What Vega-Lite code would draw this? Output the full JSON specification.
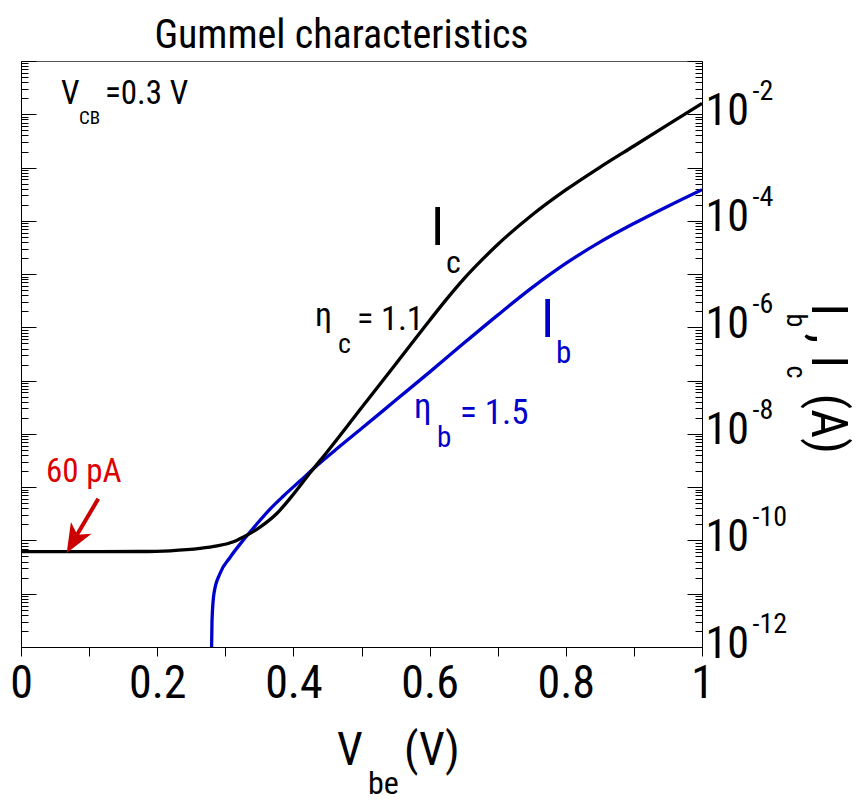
{
 "$schema": "https://vega.github.io/schema/vega-lite/v6.json",
 "width": 681, "height": 586,
 "autosize": {"type": "none"},
 "padding": {"left": 21, "top": 61, "right": 164, "bottom": 154},
 "background": "white",
 "config": {
  "font": "Roboto Condensed, Liberation Sans Narrow, Liberation Sans, Arial, sans-serif",
  "view": {"stroke": "#555555", "strokeWidth": 1},
  "axis": {"grid": false, "domainColor": "#000000", "tickColor": "#000000", "labelColor": "#000000", "labelFont": "Roboto Condensed, Liberation Sans Narrow, Liberation Sans, Arial, sans-serif", "domainWidth": 1, "tickWidth": 1}
 },
 "title": {"text": "Gummel characteristics", "font": "Roboto Condensed, Liberation Sans Narrow, Liberation Sans, Arial, sans-serif", "fontSize": 40, "fontWeight": "normal", "color": "#000000", "anchor": "middle", "dx": -20, "offset": 5},
 "datasets": {
  "curves": [
   {"series": "Ib", "v": 0.279, "i": 2e-13},
   {"series": "Ib", "v": 0.2805, "i": 3.16e-12},
   {"series": "Ib", "v": 0.2834, "i": 1.02e-11},
   {"series": "Ib", "v": 0.2922, "i": 2.4e-11},
   {"series": "Ib", "v": 0.3069, "i": 4.79e-11},
   {"series": "Ib", "v": 0.326, "i": 1.0e-10},
   {"series": "Ib", "v": 0.345, "i": 1.95e-10},
   {"series": "Ib", "v": 0.365, "i": 3.8e-10},
   {"series": "Ib", "v": 0.385, "i": 6.76e-10},
   {"series": "Ib", "v": 0.41, "i": 1.318e-9},
   {"series": "Ib", "v": 0.435, "i": 2.57e-9},
   {"series": "Ib", "v": 0.46, "i": 4.79e-9},
   {"series": "Ib", "v": 0.5, "i": 1.259e-8},
   {"series": "Ib", "v": 0.55, "i": 4.27e-8},
   {"series": "Ib", "v": 0.6, "i": 1.445e-7},
   {"series": "Ib", "v": 0.65, "i": 5.01e-7},
   {"series": "Ib", "v": 0.7, "i": 1.698e-6},
   {"series": "Ib", "v": 0.75, "i": 5.5e-6},
   {"series": "Ib", "v": 0.8, "i": 1.585e-5},
   {"series": "Ib", "v": 0.85, "i": 3.98e-5},
   {"series": "Ib", "v": 0.9, "i": 8.91e-5},
   {"series": "Ib", "v": 0.95, "i": 1.884e-4},
   {"series": "Ib", "v": 1.0, "i": 3.85e-4},
   {"series": "Ic", "v": 0.0, "i": 6.17e-11},
   {"series": "Ic", "v": 0.057, "i": 6.17e-11},
   {"series": "Ic", "v": 0.116, "i": 6.17e-11},
   {"series": "Ic", "v": 0.175, "i": 6.2e-11},
   {"series": "Ic", "v": 0.219, "i": 6.4e-11},
   {"series": "Ic", "v": 0.263, "i": 7.08e-11},
   {"series": "Ic", "v": 0.288, "i": 7.9e-11},
   {"series": "Ic", "v": 0.311, "i": 9.33e-11},
   {"series": "Ic", "v": 0.326, "i": 1.148e-10},
   {"series": "Ic", "v": 0.351, "i": 1.778e-10},
   {"series": "Ic", "v": 0.376, "i": 3.24e-10},
   {"series": "Ic", "v": 0.399, "i": 7.08e-10},
   {"series": "Ic", "v": 0.424, "i": 1.82e-9},
   {"series": "Ic", "v": 0.45, "i": 4.68e-9},
   {"series": "Ic", "v": 0.5, "i": 3.09e-8},
   {"series": "Ic", "v": 0.55, "i": 2.04e-7},
   {"series": "Ic", "v": 0.6, "i": 1.349e-6},
   {"series": "Ic", "v": 0.625, "i": 3.39e-6},
   {"series": "Ic", "v": 0.65, "i": 8.04e-6},
   {"series": "Ic", "v": 0.675, "i": 1.746e-5},
   {"series": "Ic", "v": 0.7, "i": 3.59e-5},
   {"series": "Ic", "v": 0.75, "i": 1.274e-4},
   {"series": "Ic", "v": 0.8, "i": 3.8e-4},
   {"series": "Ic", "v": 0.85, "i": 1.012e-3},
   {"series": "Ic", "v": 0.9, "i": 2.54e-3},
   {"series": "Ic", "v": 0.95, "i": 6.38e-3},
   {"series": "Ic", "v": 1.0, "i": 1.603e-2}
  ]
 },
 "layer": [
  {
   "data": {"name": "curves"},
   "mark": {"type": "line", "clip": true, "strokeWidth": 3.3, "interpolate": "monotone"},
   "encoding": {
    "x": {"field": "v", "type": "quantitative", "scale": {"domain": [0, 1], "nice": false, "zero": false},
     "axis": {"title": null, "values": [0, 0.1, 0.2, 0.3, 0.4, 0.5, 0.6, 0.7, 0.8, 0.9, 1], "format": ".1~f", "labelExpr": "round(datum.value*10) % 2 == 0 ? datum.label : ''", "tickSize": 9, "labelFontSize": 46, "labelPadding": 5, "labelOverlap": false, "labelFlush": false, "domain": true}},
    "y": {"field": "i", "type": "quantitative", "scale": {"type": "log", "domain": [1e-12, 0.1], "nice": false},
     "axis": {"title": null, "orient": "right", "values": [1e-12, 1e-11, 1e-10, 1e-9, 1e-8, 1e-7, 1e-6, 1e-5, 1e-4, 1e-3, 1e-2, 1e-1], "labels": false, "tickSize": -15, "domain": true}},
    "color": {"field": "series", "type": "nominal", "scale": {"domain": ["Ic", "Ib"], "range": ["#000000", "#0000cc"]}, "legend": null},
    "order": {"field": "v", "type": "quantitative"}
   }
  },
  {
   "data": {"name": "curves"},
   "mark": {"type": "point", "opacity": 0},
   "encoding": {
    "x": {"field": "v", "type": "quantitative", "scale": {"domain": [0, 1], "nice": false, "zero": false}, "axis": null},
    "y": {"field": "i", "type": "quantitative", "scale": {"type": "log", "domain": [1e-12, 0.1], "nice": false},
     "axis": {"title": null, "orient": "right", "values": [2e-12,3e-12,4e-12,5e-12,6e-12,7e-12,8e-12,9e-12,2e-11,3e-11,4e-11,5e-11,6e-11,7e-11,8e-11,9e-11,2e-10,3e-10,4e-10,5e-10,6e-10,7e-10,8e-10,9e-10,2e-9,3e-9,4e-9,5e-9,6e-9,7e-9,8e-9,9e-9,2e-8,3e-8,4e-8,5e-8,6e-8,7e-8,8e-8,9e-8,2e-7,3e-7,4e-7,5e-7,6e-7,7e-7,8e-7,9e-7,2e-6,3e-6,4e-6,5e-6,6e-6,7e-6,8e-6,9e-6,2e-5,3e-5,4e-5,5e-5,6e-5,7e-5,8e-5,9e-5,2e-4,3e-4,4e-4,5e-4,6e-4,7e-4,8e-4,9e-4,2e-3,3e-3,4e-3,5e-3,6e-3,7e-3,8e-3,9e-3,2e-2,3e-2,4e-2,5e-2,6e-2,7e-2,8e-2,9e-2], "labels": false, "tickSize": -7, "domain": false}}
   }
  },
  {
   "data": {"name": "curves"},
   "mark": {"type": "point", "opacity": 0},
   "encoding": {
    "x": {"field": "v", "type": "quantitative", "scale": {"domain": [0, 1], "nice": false, "zero": false}, "axis": null},
    "y": {"field": "i", "type": "quantitative", "scale": {"type": "log", "domain": [1e-12, 0.1], "nice": false},
     "axis": {"title": null, "orient": "right", "values": [1e-12, 1e-10, 1e-8, 1e-6, 1e-4, 1e-2], "labelExpr": "'10'", "ticks": false, "tickSize": 0, "domain": false, "labelFontSize": 44, "labelPadding": 3, "labelBaseline": "middle", "labelOffset": -3, "labelAlign": "left"}}
   }
  },
  {
   "data": {"name": "curves"},
   "mark": {"type": "point", "opacity": 0},
   "encoding": {
    "x": {"field": "v", "type": "quantitative", "scale": {"domain": [0, 1], "nice": false, "zero": false}, "axis": null},
    "y": {"field": "i", "type": "quantitative", "scale": {"type": "log", "domain": [1e-12, 0.1], "nice": false},
     "axis": {"title": null, "orient": "right", "values": [1e-12, 1e-10, 1e-8, 1e-6, 1e-4, 1e-2], "labelExpr": "'-' + round(-log(datum.value)/LN10)", "ticks": false, "tickSize": 0, "domain": false, "labelFontSize": 28, "labelPadding": 50, "labelBaseline": "middle", "labelOffset": -23, "labelAlign": "left"}}
   }
  },
  {
   "data": {"name": "curves"},
   "mark": {"type": "point", "opacity": 0},
   "encoding": {
    "x": {"field": "v", "type": "quantitative", "scale": {"domain": [0, 1], "nice": false, "zero": false}, "axis": null},
    "y": {"field": "i", "type": "quantitative", "scale": {"type": "log", "domain": [1e-12, 0.1], "nice": false},
     "axis": {"title": null, "orient": "left", "values": [1e-12, 1e-11, 1e-10, 1e-9, 1e-8, 1e-7, 1e-6, 1e-5, 1e-4, 1e-3, 1e-2, 1e-1], "labels": false, "tickSize": -15, "domain": true}}
   }
  },
  {
   "data": {"name": "curves"},
   "mark": {"type": "point", "opacity": 0},
   "encoding": {
    "x": {"field": "v", "type": "quantitative", "scale": {"domain": [0, 1], "nice": false, "zero": false}, "axis": null},
    "y": {"field": "i", "type": "quantitative", "scale": {"type": "log", "domain": [1e-12, 0.1], "nice": false},
     "axis": {"title": null, "orient": "left", "values": [2e-12,3e-12,4e-12,5e-12,6e-12,7e-12,8e-12,9e-12,2e-11,3e-11,4e-11,5e-11,6e-11,7e-11,8e-11,9e-11,2e-10,3e-10,4e-10,5e-10,6e-10,7e-10,8e-10,9e-10,2e-9,3e-9,4e-9,5e-9,6e-9,7e-9,8e-9,9e-9,2e-8,3e-8,4e-8,5e-8,6e-8,7e-8,8e-8,9e-8,2e-7,3e-7,4e-7,5e-7,6e-7,7e-7,8e-7,9e-7,2e-6,3e-6,4e-6,5e-6,6e-6,7e-6,8e-6,9e-6,2e-5,3e-5,4e-5,5e-5,6e-5,7e-5,8e-5,9e-5,2e-4,3e-4,4e-4,5e-4,6e-4,7e-4,8e-4,9e-4,2e-3,3e-3,4e-3,5e-3,6e-3,7e-3,8e-3,9e-3,2e-2,3e-2,4e-2,5e-2,6e-2,7e-2,8e-2,9e-2], "labels": false, "tickSize": -7, "domain": false}}
   }
  },
  {
   "data": {"values": [{"v": 0.1135, "i": 6.08e-10, "v2": 0.0749, "i2": 8.83e-11}]},
   "mark": {"type": "rule", "color": "#cc0000", "strokeWidth": 4},
   "encoding": {
    "x": {"field": "v", "type": "quantitative", "scale": {"domain": [0, 1], "nice": false, "zero": false}, "axis": null},
    "y": {"field": "i", "type": "quantitative", "scale": {"type": "log", "domain": [1e-12, 0.1], "nice": false}, "axis": null},
    "x2": {"field": "v2"},
    "y2": {"field": "i2"}
   }
  },
  {
   "data": {"values": [{"v": 0.0671, "i": 5.8e-11}]},
   "mark": {"type": "point", "shape": "M0,0 L0.9,2.2 L0,1.6 L-0.9,2.2 Z", "filled": true, "color": "#cc0000", "opacity": 1, "size": 700, "angle": 210, "strokeWidth": 0},
   "encoding": {
    "x": {"field": "v", "type": "quantitative", "scale": {"domain": [0, 1], "nice": false, "zero": false}, "axis": null},
    "y": {"field": "i", "type": "quantitative", "scale": {"type": "log", "domain": [1e-12, 0.1], "nice": false}, "axis": null}
   }
  },
  {
   "data": {"values": [{"v": 0.0587, "i": 1.567e-2, "t": "V"}, {"v": 0.1233, "i": 1.567e-2, "t": "=0.3 V"}]},
   "mark": {"type": "text", "fontSize": 33, "align": "left", "baseline": "alphabetic", "color": "#000000"},
   "encoding": {
    "x": {"field": "v", "type": "quantitative", "scale": {"domain": [0, 1], "nice": false, "zero": false}, "axis": null},
    "y": {"field": "i", "type": "quantitative", "scale": {"type": "log", "domain": [1e-12, 0.1], "nice": false}, "axis": null},
    "text": {"field": "t"}
   }
  },
  {
   "data": {"values": [{"v": 0.0852, "i": 6.61e-3, "t": "CB"}]},
   "mark": {"type": "text", "fontSize": 19, "align": "left", "baseline": "alphabetic", "color": "#000000"},
   "encoding": {
    "x": {"field": "v", "type": "quantitative", "scale": {"domain": [0, 1], "nice": false, "zero": false}, "axis": null},
    "y": {"field": "i", "type": "quantitative", "scale": {"type": "log", "domain": [1e-12, 0.1], "nice": false}, "axis": null},
    "text": {"field": "t"}
   }
  },
  {
   "data": {"values": [{"v": 0.602, "i": 3.59e-5, "t": "I"}]},
   "mark": {"type": "text", "fontSize": 53, "align": "left", "baseline": "alphabetic", "color": "#000000"},
   "encoding": {
    "x": {"field": "v", "type": "quantitative", "scale": {"domain": [0, 1], "nice": false, "zero": false}, "axis": null},
    "y": {"field": "i", "type": "quantitative", "scale": {"type": "log", "domain": [1e-12, 0.1], "nice": false}, "axis": null},
    "text": {"field": "t"}
   }
  },
  {
   "data": {"values": [{"v": 0.6241, "i": 1.04e-5, "t": "c"}]},
   "mark": {"type": "text", "fontSize": 32, "align": "left", "baseline": "alphabetic", "color": "#000000"},
   "encoding": {
    "x": {"field": "v", "type": "quantitative", "scale": {"domain": [0, 1], "nice": false, "zero": false}, "axis": null},
    "y": {"field": "i", "type": "quantitative", "scale": {"type": "log", "domain": [1e-12, 0.1], "nice": false}, "axis": null},
    "text": {"field": "t"}
   }
  },
  {
   "data": {"values": [{"v": 0.4655, "i": 3.24e-7, "t": "c"}]},
   "mark": {"type": "text", "fontSize": 28, "align": "left", "baseline": "alphabetic", "color": "#000000"},
   "encoding": {
    "x": {"field": "v", "type": "quantitative", "scale": {"domain": [0, 1], "nice": false, "zero": false}, "axis": null},
    "y": {"field": "i", "type": "quantitative", "scale": {"type": "log", "domain": [1e-12, 0.1], "nice": false}, "axis": null},
    "text": {"field": "t"}
   }
  },
  {
   "data": {"values": [{"v": 0.4317, "i": 1.04e-6, "t": "η"}, {"v": 0.4934, "i": 8.75e-7, "t": "= 1.1"}]},
   "mark": {"type": "text", "fontSize": 34, "align": "left", "baseline": "alphabetic", "color": "#000000"},
   "encoding": {
    "x": {"field": "v", "type": "quantitative", "scale": {"domain": [0, 1], "nice": false, "zero": false}, "axis": null},
    "y": {"field": "i", "type": "quantitative", "scale": {"type": "log", "domain": [1e-12, 0.1], "nice": false}, "axis": null},
    "text": {"field": "t"}
   }
  },
  {
   "data": {"values": [{"v": 0.7636, "i": 6.55e-7, "t": "I"}]},
   "mark": {"type": "text", "fontSize": 53, "align": "left", "baseline": "alphabetic", "color": "#0000cc"},
   "encoding": {
    "x": {"field": "v", "type": "quantitative", "scale": {"domain": [0, 1], "nice": false, "zero": false}, "axis": null},
    "y": {"field": "i", "type": "quantitative", "scale": {"type": "log", "domain": [1e-12, 0.1], "nice": false}, "axis": null},
    "text": {"field": "t"}
   }
  },
  {
   "data": {"values": [{"v": 0.7856, "i": 2.1e-7, "t": "b"}]},
   "mark": {"type": "text", "fontSize": 31, "align": "left", "baseline": "alphabetic", "color": "#0000cc"},
   "encoding": {
    "x": {"field": "v", "type": "quantitative", "scale": {"domain": [0, 1], "nice": false, "zero": false}, "axis": null},
    "y": {"field": "i", "type": "quantitative", "scale": {"type": "log", "domain": [1e-12, 0.1], "nice": false}, "axis": null},
    "text": {"field": "t"}
   }
  },
  {
   "data": {"values": [{"v": 0.6109, "i": 5.65e-9, "t": "b"}]},
   "mark": {"type": "text", "fontSize": 29, "align": "left", "baseline": "alphabetic", "color": "#0000cc"},
   "encoding": {
    "x": {"field": "v", "type": "quantitative", "scale": {"domain": [0, 1], "nice": false, "zero": false}, "axis": null},
    "y": {"field": "i", "type": "quantitative", "scale": {"type": "log", "domain": [1e-12, 0.1], "nice": false}, "axis": null},
    "text": {"field": "t"}
   }
  },
  {
   "data": {"values": [{"v": 0.5771, "i": 1.95e-8, "t": "η"}, {"v": 0.6446, "i": 1.55e-8, "t": "= 1.5"}]},
   "mark": {"type": "text", "fontSize": 35, "align": "left", "baseline": "alphabetic", "color": "#0000cc"},
   "encoding": {
    "x": {"field": "v", "type": "quantitative", "scale": {"domain": [0, 1], "nice": false, "zero": false}, "axis": null},
    "y": {"field": "i", "type": "quantitative", "scale": {"type": "log", "domain": [1e-12, 0.1], "nice": false}, "axis": null},
    "text": {"field": "t"}
   }
  },
  {
   "data": {"values": [{"v": 0.0367, "i": 1.247e-9, "t": "60 pA"}]},
   "mark": {"type": "text", "fontSize": 33, "align": "left", "baseline": "alphabetic", "color": "#dd0000"},
   "encoding": {
    "x": {"field": "v", "type": "quantitative", "scale": {"domain": [0, 1], "nice": false, "zero": false}, "axis": null},
    "y": {"field": "i", "type": "quantitative", "scale": {"type": "log", "domain": [1e-12, 0.1], "nice": false}, "axis": null},
    "text": {"field": "t"}
   }
  },
  {
   "data": {"values": [{"v": 0.464, "i": 6.04e-15, "t": "V"}, {"v": 0.5624, "i": 6.04e-15, "t": "(V)"}]},
   "mark": {"type": "text", "fontSize": 46, "align": "left", "baseline": "alphabetic", "color": "#000000"},
   "encoding": {
    "x": {"field": "v", "type": "quantitative", "scale": {"domain": [0, 1], "nice": false, "zero": false}, "axis": null},
    "y": {"field": "i", "type": "quantitative", "scale": {"type": "log", "domain": [1e-12, 0.1], "nice": false}, "axis": null},
    "text": {"field": "t"}
   }
  },
  {
   "data": {"values": [{"v": 0.5095, "i": 1.723e-15, "t": "be"}]},
   "mark": {"type": "text", "fontSize": 32, "align": "left", "baseline": "alphabetic", "color": "#000000"},
   "encoding": {
    "x": {"field": "v", "type": "quantitative", "scale": {"domain": [0, 1], "nice": false, "zero": false}, "axis": null},
    "y": {"field": "i", "type": "quantitative", "scale": {"type": "log", "domain": [1e-12, 0.1], "nice": false}, "axis": null},
    "text": {"field": "t"}
   }
  },
  {
   "data": {"values": [{"v": 1.1611, "i": 2.81e-6, "t": "I"}, {"v": 1.1611, "i": 7.69e-7, "t": ","}, {"v": 1.1611, "i": 2.97e-7, "t": "I"}, {"v": 1.1611, "i": 5.75e-8, "t": "(A)"}]},
   "mark": {"type": "text", "fontSize": 50, "align": "left", "baseline": "alphabetic", "color": "#000000", "angle": 90},
   "encoding": {
    "x": {"field": "v", "type": "quantitative", "scale": {"domain": [0, 1], "nice": false, "zero": false}, "axis": null},
    "y": {"field": "i", "type": "quantitative", "scale": {"type": "log", "domain": [1e-12, 0.1], "nice": false}, "axis": null},
    "text": {"field": "t"}
   }
  },
  {
   "data": {"values": [{"v": 1.1248, "i": 1.82e-6, "t": "b"}, {"v": 1.1248, "i": 1.93e-7, "t": "c"}]},
   "mark": {"type": "text", "fontSize": 28, "align": "left", "baseline": "alphabetic", "color": "#000000", "angle": 90},
   "encoding": {
    "x": {"field": "v", "type": "quantitative", "scale": {"domain": [0, 1], "nice": false, "zero": false}, "axis": null},
    "y": {"field": "i", "type": "quantitative", "scale": {"type": "log", "domain": [1e-12, 0.1], "nice": false}, "axis": null},
    "text": {"field": "t"}
   }
  }
 ],
 "resolve": {"axis": {"x": "independent", "y": "independent"}}
}
